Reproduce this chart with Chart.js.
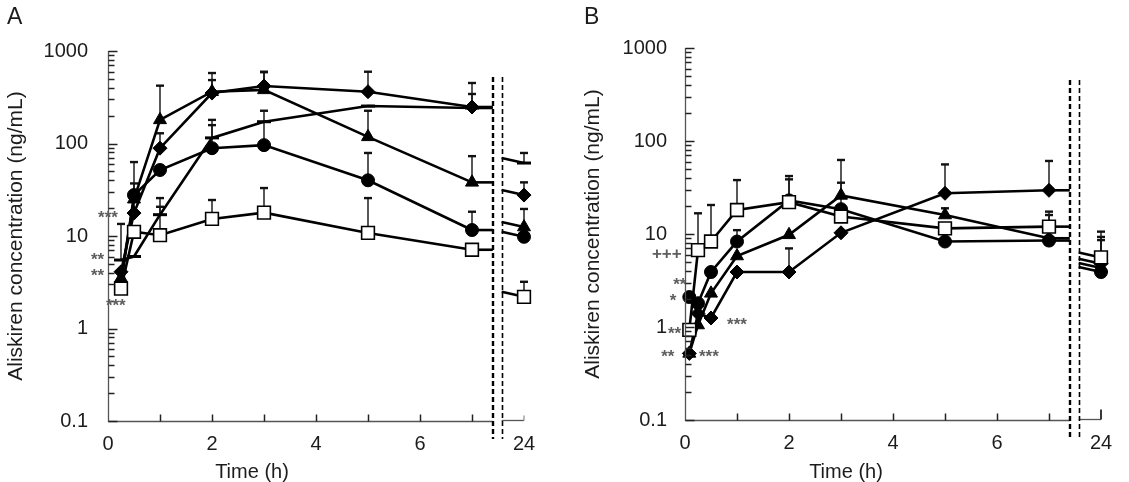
<!DOCTYPE html>
<html lang="en">
<head>
  <meta charset="UTF-8">
  <title>Aliskiren concentration</title>
  <script src="https://cdn.jsdelivr.net/npm/chart.js"></script>
  <style>
    body { margin: 0; background: #fff; }
    .panel { position: absolute; top: 0; height: 482px; }
    #panelA { left: 0; width: 564px; }
    #panelB { left: 564px; width: 565px; }
  </style>
</head>
<body>
  <div class="panel" id="panelA"><canvas id="chartA"></canvas></div>
  <div class="panel" id="panelB"><canvas id="chartB"></canvas></div>

  <script>
    // sampling times (h)
    const timesA = [0.25, 0.5, 1, 2, 3, 5, 7, 24];
    const timesB = [0.083, 0.25, 0.5, 1, 2, 3, 5, 7, 24];

    // panel A - mean concentrations (ng/mL)
    const diamondA  = [4.1, 17.7, 89, 351, 418, 363, 248, 27.7];
    const triangleA = [3.5, 25, 180, 363, 380, 118, 38, 12.5];
    const circleA   = [3.0, 27.7, 51.7, 89, 96, 40, 11.6, 9.8];
    const squareA   = [2.7, 11.1, 10.2, 15.3, 17.9, 10.8, 7.1, 2.2];
    const dashA     = [5.5, 6.0, 17, 115, 172, 254, 242, 61.5];
    // panel A - top of error bars (mean + SD)
    const diamondErrA  = [null, 37, 129, 485, 597, 597, 451, 38];
    const triangleErrA = [null, 63, 422, 578, 590, 226, 73, 19.6];
    const circleErrA   = [null, null, null, 158, 226, 79, 18.3, null];
    const squareErrA   = [null, null, 20.7, 24.5, 33, 25.7, null, 3.2];
    const dashErrA     = [13.5, null, 25.7, 180, null, null, 343, 79];

    // panel B - mean concentrations (ng/mL)
    const diamondB  = [0.52, 1.4, 1.25, 3.9, 3.9, 10.3, 27.4, 29.5, 4.8];
    const triangleB = [0.52, 1.05, 2.3, 5.8, 9.8, 26, 16, 9.0, 4.3];
    const circleB   = [2.1, 1.8, 3.9, 8.3, 23, 18.5, 8.3, 8.5, 3.9];
    const squareB   = [0.93, 6.7, 8.3, 18.1, 22, 15.4, 11.5, 12, 5.6];
    // panel B - top of error bars
    const diamondErrB  = [null, null, null, null, 7, null, 56, 61, null];
    const triangleErrB = [null, null, null, null, null, 62.5, 18.9, null, 9.3];
    const circleErrB   = [null, null, null, 11, 38.7, 35.6, null, 16, 8.6];
    const squareErrB   = [null, 16.7, 20.5, 38, 42, null, null, 17.4, 10.6];

    // significance marks: [text, time, concentration]
    const marksA = [['***', 0.0, 17], ['**', -0.2, 6.1], ['**', -0.2, 4.1], ['***', 0.15, 1.9]];
    const marksB = [['+++', -0.35, 6.6], ['**', -0.1, 3.1], ['*', -0.23, 2.1], ['**', -0.2, 0.93],
                    ['**', -0.33, 0.52], ['***', 0.46, 0.52], ['***', 1.0, 1.14]];

    const yTickVals = [0.1, 1, 10, 100, 1000];
    const yMinorVals = [0.2, 0.3, 0.4, 0.5, 0.6, 0.7, 0.8, 0.9, 2, 3, 4, 5, 6, 7, 8, 9,
                        20, 30, 40, 50, 60, 70, 80, 90, 200, 300, 400, 500, 600, 700, 800, 900];
    const xTickVals = [0, 2, 4, 6, 24];
    const xMinorVals = [1, 2, 3, 4, 5, 6, 7];

    // axis break: 24 h is drawn just after the break
    const POS24 = 8, BREAK_L = 7.4, BREAK_R = 7.57;
    const xPos = t => t === 24 ? POS24 : t;

    const FONT = "'Liberation Sans', Arial, sans-serif";
    const TXT = '#1c1c1c';

    const styles = {
      diamond:  { pointStyle: 'rectRot', pointRadius: 7, pointBackgroundColor: '#000' },
      triangle: { pointStyle: 'triangle', pointRadius: 7.5, pointBackgroundColor: '#000' },
      circle:   { pointStyle: 'circle', pointRadius: 6.5, pointBackgroundColor: '#000' },
      square:   { pointStyle: 'rect', pointRadius: 9, pointBackgroundColor: '#fff', pointBorderWidth: 1.6 },
      dash:     { pointStyle: 'line', pointRadius: 7, pointBorderWidth: 3 }
    };

    function series(times, vals, errs, style) {
      const last = times.length - 1;
      return Object.assign({
        data: times.map((t, i) => ({ x: xPos(t), y: vals[i] })),
        errTop: errs,
        borderColor: '#000',
        pointBorderColor: '#000',
        pointBorderWidth: 1,
        borderWidth: 2.6,
        tension: 0,
        clip: false,
        segment: {
          // no straight line across the axis break
          borderColor: c => c.p1DataIndex === last ? 'rgba(0,0,0,0)' : '#000'
        }
      }, style);
    }

    function seg(ctx, x1, y1, x2, y2) {
      ctx.beginPath();
      ctx.moveTo(x1, y1);
      ctx.lineTo(x2, y2);
      ctx.stroke();
    }

    function extras(o) {
      return {
        id: 'extras',
        beforeDatasetsDraw(chart) {
          const { ctx, chartArea: a, scales: { x, y } } = chart;
          const bl = x.getPixelForValue(BREAK_L), br = x.getPixelForValue(BREAK_R);
          ctx.save();

          // error bars (upper only) and break connectors
          chart.data.datasets.forEach((ds, i) => {
            const pts = chart.getDatasetMeta(i).data;
            ctx.strokeStyle = '#111';
            ds.errTop.forEach((e, j) => {
              if (e == null) return;
              const p = pts[j], ty = y.getPixelForValue(e);
              ctx.lineWidth = 1.4;
              seg(ctx, p.x, p.y, p.x, ty);
              ctx.lineWidth = 2.4;
              seg(ctx, p.x - 4, ty, p.x + 4, ty);
            });
            const p7 = pts[pts.length - 2], p24 = pts[pts.length - 1];
            ctx.strokeStyle = '#000';
            ctx.lineWidth = 2.6;
            seg(ctx, p7.x, p7.y, bl, p7.y);
            seg(ctx, br, p24.y - 5, p24.x, p24.y);
          });
          ctx.restore();
        },
        afterDraw(chart) {
          const { ctx, chartArea: a, scales: { x, y } } = chart;
          const L = Math.round(a.left) + 0.5, B = Math.round(a.bottom) + 0.5;
          ctx.save();

          // axes
          ctx.strokeStyle = '#555';
          ctx.lineWidth = 1.3;
          ctx.beginPath();
          ctx.moveTo(L, a.top);
          ctx.lineTo(L, B);
          ctx.lineTo(x.getPixelForValue(BREAK_L), B);
          ctx.stroke();
          seg(ctx, x.getPixelForValue(BREAK_R), B - 1, a.right, B - 1);

          // ticks, drawn inward
          ctx.strokeStyle = '#222';
          ctx.lineWidth = 1.5;
          yTickVals.forEach(v => {
            const py = Math.round(y.getPixelForValue(v)) + 0.5;
            seg(ctx, L, py, L + 9, py);
          });
          yMinorVals.forEach(v => {
            const py = Math.round(y.getPixelForValue(v)) + 0.5;
            seg(ctx, L, py, L + 6, py);
          });
          xMinorVals.forEach(t => {
            const px = Math.round(x.getPixelForValue(t)) + 0.5;
            seg(ctx, px, B, px, B - 7);
          });
          ctx.strokeStyle = o.stubColor;
          ctx.lineWidth = o.stubWidth;
          seg(ctx, a.right, B - 1, a.right, B - o.stubTick);

          // axis break
          ctx.strokeStyle = '#000';
          ctx.setLineDash([5, 3]);
          ctx.lineWidth = 2.4;
          const bl = Math.round(x.getPixelForValue(BREAK_L));
          seg(ctx, bl, o.breakTop, bl, a.bottom + 18);
          ctx.lineWidth = 1.6;
          const br = Math.round(x.getPixelForValue(BREAK_R)) + 0.5;
          seg(ctx, br, o.breakTop, br, a.bottom + 18);
          ctx.setLineDash([]);

          // significance marks
          ctx.fillStyle = '#5e5e5e';
          ctx.font = 'bold 17px ' + FONT;
          ctx.textAlign = 'center';
          ctx.textBaseline = 'middle';
          o.marks.forEach(([txt, t, v]) => {
            ctx.fillText(txt, x.getPixelForValue(t), y.getPixelForValue(v) + 4);
          });

          // x title and panel letter
          ctx.fillStyle = TXT;
          ctx.font = '20px ' + FONT;
          ctx.fillText('Time (h)', o.xTitleX, 472);
          ctx.font = '23px ' + FONT;
          ctx.textAlign = 'left';
          ctx.fillText(o.letter, o.letterX, 18);
          ctx.restore();
        }
      };
    }

    function makeChart(id, times, sets, o) {
      new Chart(document.getElementById(id), {
        type: 'line',
        data: { datasets: sets },
        options: {
          responsive: true,
          maintainAspectRatio: false,
          animation: false,
          events: [],
          layout: { padding: { top: o.top, right: o.right, left: 0, bottom: 0 } },
          plugins: { legend: { display: false }, tooltip: { enabled: false } },
          scales: {
            x: {
              type: 'linear', min: 0, max: POS24,
              afterBuildTicks: s => { s.ticks = xTickVals.map(t => ({ value: xPos(t) })); },
              afterFit: s => { s.height = 482 - o.top - o.plotH; },
              ticks: {
                callback: v => v === POS24 ? '24' : String(v),
                font: { family: FONT, size: 20 }, color: TXT, padding: 11, maxRotation: 0
              },
              grid: { display: false, drawTicks: false },
              border: { display: false }
            },
            y: {
              type: 'logarithmic', min: 0.1, max: 1000,
              afterBuildTicks: s => { s.ticks = yTickVals.map(v => ({ value: v })); },
              afterFit: s => { s.width = o.yWidth; },
              ticks: {
                callback: v => String(v),
                font: { family: FONT, size: 20 }, color: TXT, padding: o.yPad
              },
              grid: { display: false, drawTicks: false },
              border: { display: false },
              title: {
                display: true, text: 'Aliskiren concentration (ng/mL)',
                font: { family: FONT, size: 21 }, color: TXT,
                padding: { top: o.titlePad, bottom: 0 }
              }
            }
          }
        },
        plugins: [extras(o)]
      });
    }

    makeChart('chartA', timesA, [
      series(timesA, squareA, squareErrA, styles.square),
      series(timesA, circleA, circleErrA, styles.circle),
      series(timesA, triangleA, triangleErrA, styles.triangle),
      series(timesA, diamondA, diamondErrA, styles.diamond),
      series(timesA, dashA, dashErrA, styles.dash)
    ], {
      top: 51, plotH: 370, right: 40, yWidth: 108, yPad: 20, titlePad: 4,
      marks: marksA, xTitleX: 252, letter: 'A', letterX: 7,
      breakTop: 77, stubColor: '#8a8a8a', stubWidth: 1.2, stubTick: 6
    });

    makeChart('chartB', timesB, [
      series(timesB, squareB, squareErrB, styles.square),
      series(timesB, circleB, circleErrB, styles.circle),
      series(timesB, triangleB, triangleErrB, styles.triangle),
      series(timesB, diamondB, diamondErrB, styles.diamond)
    ], {
      top: 48, plotH: 372, right: 28, yWidth: 121, yPad: 18, titlePad: 17,
      marks: marksB, xTitleX: 282, letter: 'B', letterX: 20,
      breakTop: 80, stubColor: '#222', stubWidth: 1.8, stubTick: 11
    });
  </script>
</body>
</html>
